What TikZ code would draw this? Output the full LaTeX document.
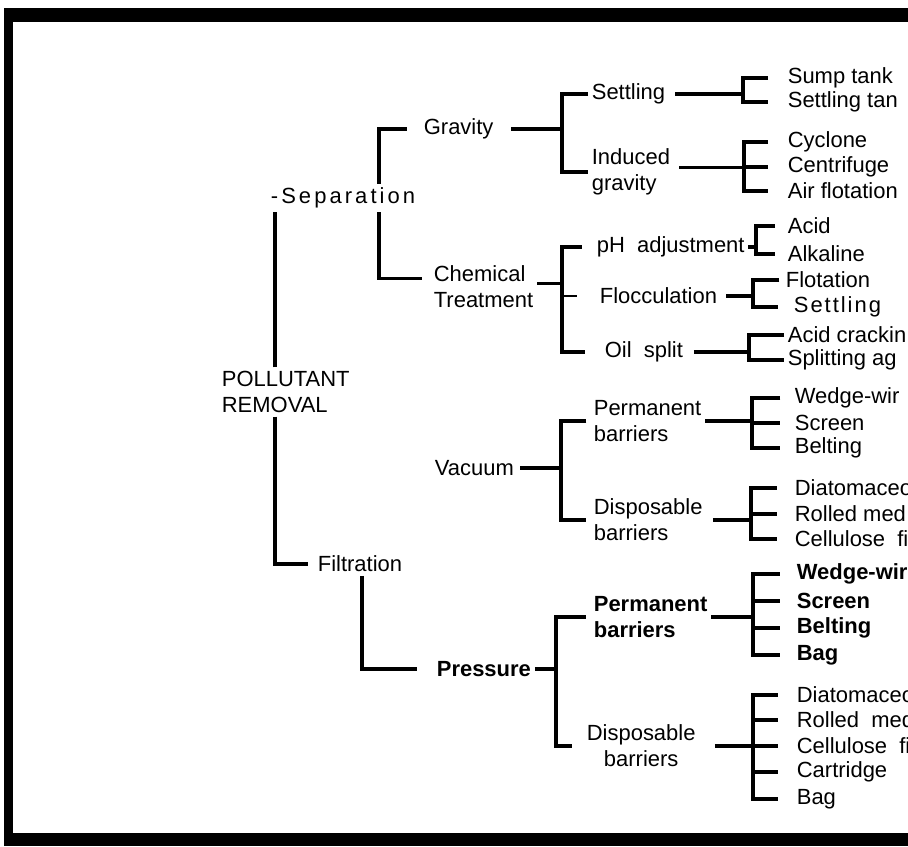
\documentclass[tikz,border=0pt]{standalone}
\usepackage{fontspec}
\setmainfont{Liberation Sans}
\newfontfamily\spacedfont[LetterSpace=14]{Liberation Sans}
\newfontfamily\spacedfontb[LetterSpace=9]{Liberation Sans}

\begin{document}
\begin{tikzpicture}[x=0.02cm, y=-0.02cm,
    link/.style={line width=1.9pt},
    item/.style={anchor=west, inner sep=2pt, font=\fontsize{12.5}{14.7}\selectfont},
    twoline/.style={item, align=left},
    heavy/.style={font=\fontsize{12.5}{14.7}\selectfont\bfseries},
    spaced/.style={font=\spacedfont\fontsize{12.5}{14.7}\selectfont},
    spacedb/.style={font=\spacedfontb\fontsize{12.5}{14.7}\selectfont}]

\useasboundingbox (0,0) rectangle (908,847);
\fill[white] (0,0) rectangle (908,847);
\clip (0,0) rectangle (908,847);

% Frame
\fill (4,8) rectangle (908,22);
\fill (4,8) rectangle (13,846);
\fill (4,833) rectangle (908,846);

% Root and first levels
\node[twoline] (root) at (218,392) {POLLUTANT\\REMOVAL};
\node[item, spaced] (sep) at (267,198) {-Separation};
\node[item] (filt) at (314,564) {Filtration};
\node[item] (grav) at (420,129) {Gravity};
\node[twoline] (chem) at (430,287) {Chemical\\Treatment};
\node[item] (vac) at (431,468) {Vacuum};
\node[item, heavy] (pres) at (433,669) {Pressure};

% Second level
\node[item] (settl) at (588,94) {Settling};
\node[twoline] (indu) at (588,172) {Induced\\gravity};
\node[item] (ph) at (593,247) {pH~~adjustment};
\node[item] (floc) at (596,296) {Flocculation};
\node[item] (oil) at (601,352) {Oil~~split};
\node[twoline] (vperm) at (590,421) {Permanent\\barriers};
\node[twoline] (vdisp) at (590,520) {Disposable\\barriers};
\node[twoline, heavy] (pperm) at (590,617) {Permanent\\barriers};
\node[item, align=center] (pdisp) at (583,746) {Disposable\\barriers};

% Leaves
\foreach \n/\y/\t in {sump/78/Sump tank, stank/102/Settling tan,
        cycl/142/Cyclone, centr/167/Centrifuge, airf/191/Air flotation}
    \node[item] (\n) at (784,\y) {\t};
\foreach \n/\y/\t in {acid/226/Acid, alka/254/Alkaline,
        crack/335/Acid crackin, split/360/Splitting ag}
    \node[item] (\n) at (784,\y) {\t};
\node[item] (flot) at (782,280) {Flotation};
\node[item, spacedb] (sett) at (790,307) {Settling};
\foreach \n/\y/\t in {vwed/398/Wedge-wir, vscr/423/Screen, vbel/448/Belting,
        vdia/488/Diatomaceo, vrol/514/Rolled med, vcel/539/Cellulose~~fi}
    \node[item] (\n) at (791,\y) {\t};
\foreach \n/\y/\t in {pwed/574/Wedge-wir, pscr/601/Screen, pbel/628/Belting, pbag/655/Bag}
    \node[item, heavy] (\n) at (793,\y) {\t};
\foreach \n/\y/\t in {pdia/695/Diatomaceo, prol/720/Rolled~~med, pcel/746/Cellulose~~fi,
        pcar/772/Cartridge, pbg/799/Bag}
    \node[item] (\n) at (793,\y) {\t};

% Spines
\coordinate (trunk) at (275,0);
\coordinate (spA) at (379,0);
\coordinate (spF) at (362,0);
\coordinate (spG) at (562,0);
\coordinate (spC) at (562,0);
\coordinate (spV) at (561,0);
\coordinate (spP) at (556,0);
\coordinate (spS) at (743,0);
\coordinate (spI) at (744,0);
\coordinate (spH) at (756,0);
\coordinate (spL) at (753,0);
\coordinate (spO) at (749,0);
\coordinate (spVP) at (752,0);
\coordinate (spVD) at (751,0);
\coordinate (spPP) at (753,0);
\coordinate (spPD) at (753,0);

% Trunk
\draw[link] (root.north -| trunk) -- (sep.south -| trunk);
\draw[link, shorten >=3.5pt] (root.south -| trunk) |- (filt.west);
\draw[link, shorten >=7.5pt] (sep.north -| spA) |- (grav.west);
\draw[link, shorten >=4.5pt] (sep.south -| spA) |- ([yshift=5pt]chem.west);
\draw[link, shorten >=9pt] (filt.south -| spF) |- (pres.west);

% Gravity
\draw[link, shorten <=8pt] (grav.east) -- (grav.east -| spG);
\draw[link] (settl.west) -- (settl.west -| spG) -- (indu.west -| spG) -- (indu.west);
\draw[link, shorten <=3.5pt] (settl.east) -- (settl.east -| spS);
\draw[link, shorten <=9pt, shorten >=9pt] (sump.west) -- (sump.west -| spS)
    -- (stank.west -| spS) -- (stank.west);
\draw[link, shorten <=3pt] ([yshift=2.5pt]indu.east) -- ([yshift=2.5pt]indu.east -| spI);
\draw[link, shorten <=9pt, shorten >=9pt] (cycl.west) -- (cycl.west -| spI)
    -- (airf.west -| spI) -- (airf.west);
\draw[link, shorten >=9pt] (centr.west -| spI) -- (centr.west);

% Chemical treatment
\draw[link] ([yshift=2pt]chem.east) -- ([yshift=2pt]chem.east -| spC);
\draw[link, shorten <=6.5pt, shorten >=9pt] (ph.west) -- (ph.west -| spC)
    -- (oil.west -| spC) -- (oil.west);
\draw[link, line width=1.3pt, shorten >=11pt] (floc.west -| spC) -- (floc.west);
\draw[link] (ph.east) -- (ph.east -| spH);
\draw[link, shorten <=5pt, shorten >=5pt] (acid.west) -- (acid.west -| spH)
    -- (alka.west -| spH) -- (alka.west);
\draw[link, shorten <=3pt] (floc.east) -- (floc.east -| spL);
\draw[link, shorten <=1.5pt, shorten >=7pt] (flot.west) -- (flot.west -| spL)
    -- (sett.west -| spL) -- (sett.west);
\draw[link, shorten <=4pt] (oil.east) -- (oil.east -| spO);
\draw[link] (crack.west) -- (crack.west -| spO) -- (split.west -| spO) -- (split.west);

% Vacuum
\draw[link, shorten <=1.5pt] (vac.east) -- (vac.east -| spV);
\draw[link, shorten <=2pt, shorten >=2pt] (vperm.west) -- (vperm.west -| spV)
    -- (vdisp.west -| spV) -- (vdisp.west);
\draw[link] (vperm.east) -- (vperm.east -| spVP);
\draw[link, shorten <=6pt, shorten >=6pt] (vwed.west) -- (vwed.west -| spVP)
    -- (vbel.west -| spVP) -- (vbel.west);
\draw[link, shorten >=6pt] (vscr.west -| spVP) -- (vscr.west);
\draw[link, shorten <=3.7pt] (vdisp.east) -- (vdisp.east -| spVD);
\draw[link, shorten <=8pt, shorten >=8pt] (vdia.west) -- (vdia.west -| spVD)
    -- (vcel.west -| spVD) -- (vcel.west);
\draw[link, shorten >=8pt] (vrol.west -| spVD) -- (vrol.west);

% Pressure
\draw[link] (pres.east) -- (pres.east -| spP);
\draw[link, shorten <=2.5pt, shorten >=6pt] (pperm.west) -- (pperm.west -| spP)
    -- (pdisp.west -| spP) -- (pdisp.west);
\draw[link] (pperm.east) -- (pperm.east -| spPP);
\draw[link, shorten <=7.5pt, shorten >=7.5pt] (pwed.west) -- (pwed.west -| spPP)
    -- (pbag.west -| spPP) -- (pbag.west);
\foreach \n in {pscr, pbel}
    \draw[link, shorten >=7.5pt] (\n.west -| spPP) -- (\n.west);
\draw[link, shorten <=8.8pt] (pdisp.east) -- (pdisp.east -| spPD);
\draw[link, shorten <=8.8pt, shorten >=8.8pt] (pdia.west) -- (pdia.west -| spPD)
    -- (pbg.west -| spPD) -- (pbg.west);
\foreach \n in {prol, pcel, pcar}
    \draw[link, shorten >=8.8pt] (\n.west -| spPD) -- (\n.west);

\end{tikzpicture}
\end{document}
